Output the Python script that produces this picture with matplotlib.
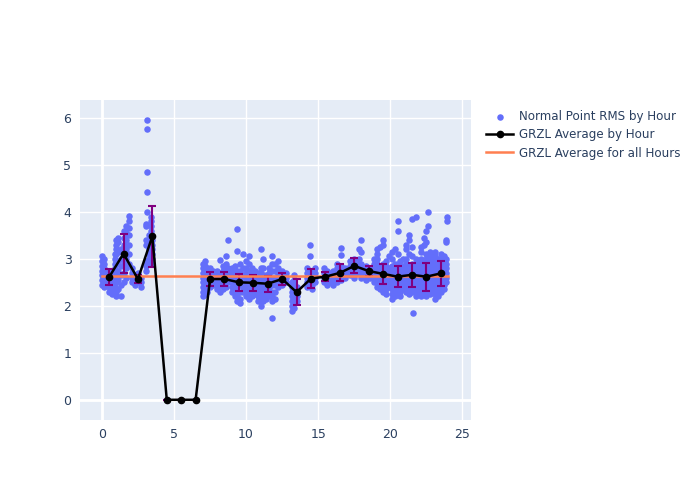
import matplotlib.pyplot as plt
import numpy as np

# hourly averages (GRZL) and their spread
hours = [0.5, 1.5, 2.5, 3.5, 4.5, 5.5, 6.5, 7.5, 8.5, 9.5, 10.5, 11.5,
         12.5, 13.5, 14.5, 15.5, 16.5, 17.5, 18.5, 19.5, 20.5, 21.5, 22.5, 23.5]
avg_rms = [2.61, 3.11, 2.57, 3.48, 0.0, 0.0, 0.0, 2.57, 2.57, 2.50, 2.49, 2.47,
           2.57, 2.29, 2.58, 2.62, 2.70, 2.85, 2.74, 2.68, 2.62, 2.66, 2.62, 2.69]
std_rms = [0.17, 0.42, 0.08, 0.65, 0.0, 0.0, 0.0, 0.15, 0.14, 0.18, 0.17, 0.17,
           0.13, 0.28, 0.20, 0.10, 0.18, 0.16, 0.11, 0.22, 0.22, 0.25, 0.30, 0.26]
overall_avg = 2.63

# normal point RMS, grouped by pass (hour of day -> values)
pass_hours = [0.0, 0.15, 0.3, 0.5, 0.7, 0.9,
              1.0, 1.1, 1.3, 1.5, 1.7, 1.85,
              2.1, 2.3, 2.5, 2.7,
              3.05, 3.1, 3.25, 3.4, 3.5,
              7.0, 7.15, 7.3, 7.5, 7.7,
              8.0, 8.2, 8.4, 8.6, 8.75,
              9.0, 9.2, 9.4, 9.6, 9.8,
              10.0, 10.2, 10.4, 10.6, 10.8,
              11.0, 11.2, 11.4, 11.6, 11.8,
              12.0, 12.2, 12.5, 12.8,
              13.2, 13.3, 13.5,
              14.2, 14.4, 14.6, 14.8,
              15.4, 15.6, 15.9,
              16.0, 16.3, 16.6, 16.85,
              17.2, 17.5, 17.8,
              18.0, 18.3, 18.6, 18.9,
              19.1, 19.3, 19.5, 19.7, 19.9,
              20.1, 20.3, 20.5, 20.7, 20.9,
              21.1, 21.3, 21.5, 21.6, 21.75, 21.9,
              22.1, 22.3, 22.5, 22.6, 22.75, 22.9,
              23.1, 23.3, 23.5, 23.7, 23.85, 23.9]
pass_rms = [
    [2.45, 2.55, 2.65, 2.75, 2.85, 2.95, 3.05],
    [2.4, 2.5, 2.6, 2.7, 2.8, 2.9, 3.0],
    [2.45, 2.55, 2.65, 2.75],
    [2.3, 2.4, 2.5, 2.6, 2.7],
    [2.25, 2.35, 2.45, 2.55, 2.65, 2.75],
    [2.3, 2.4, 2.5, 2.6, 2.7, 2.8, 2.9, 3.0, 3.1],
    [2.2, 2.3, 2.5, 2.7, 2.9, 3.1, 3.2, 3.3, 3.4],
    [2.35, 2.55, 2.75, 2.95, 3.15, 3.35, 3.45],
    [2.2, 2.45, 2.65, 2.85, 3.0, 3.2],
    [2.5, 2.7, 2.9, 3.1, 3.3, 3.45, 3.6],
    [2.6, 2.8, 3.0, 3.2, 3.4, 3.55, 3.7],
    [2.9, 3.1, 3.3, 3.5, 3.65, 3.8, 3.92],
    [2.5, 2.6, 2.7, 2.8],
    [2.45, 2.55, 2.65],
    [2.5, 2.6, 2.7],
    [2.4, 2.5, 2.6],
    [2.75, 2.85, 2.95, 3.3, 3.4, 3.7, 3.75],
    [4.0, 4.42, 4.85, 5.77, 5.95],
    [2.9, 3.0, 3.1, 3.2, 3.3, 3.4, 3.5],
    [3.2, 3.3, 3.4, 3.5, 3.6, 3.7, 3.8, 3.9],
    [2.9, 3.0, 3.1, 3.2, 3.3, 3.4],
    [2.2, 2.3, 2.4, 2.5, 2.6, 2.7, 2.8, 2.9],
    [2.25, 2.35, 2.45, 2.55, 2.65, 2.75, 2.85, 2.95],
    [2.3, 2.4, 2.5, 2.6, 2.7, 2.8],
    [2.4, 2.5, 2.6, 2.7, 2.8],
    [2.45, 2.55, 2.65, 2.75],
    [2.35, 2.45, 2.55, 2.65, 2.75],
    [2.3, 2.4, 2.5, 2.6, 2.7, 2.98],
    [2.35, 2.45, 2.55, 2.65, 2.75, 2.85],
    [2.4, 2.5, 2.6, 2.7, 2.8, 2.9, 3.05],
    [3.4, 2.5, 2.6, 2.7, 2.8],
    [2.3, 2.4, 2.5, 2.6, 2.7, 2.8],
    [2.2, 2.3, 2.4, 2.5, 2.6, 2.7, 2.85],
    [2.1, 2.2, 2.3, 2.45, 2.6, 2.75, 3.16, 3.64],
    [2.05, 2.15, 2.3, 2.45, 2.6, 2.75, 2.9],
    [2.3, 2.4, 2.5, 2.65, 2.8, 3.1],
    [2.2, 2.3, 2.4, 2.5, 2.6, 2.7, 2.8, 2.95],
    [2.15, 2.25, 2.35, 2.45, 2.55, 2.65, 2.75, 2.9, 3.05],
    [2.2, 2.3, 2.4, 2.5, 2.6, 2.7, 2.8],
    [2.25, 2.35, 2.45, 2.55, 2.65, 2.75],
    [2.1, 2.2, 2.3, 2.4, 2.5, 2.6, 2.7],
    [2.0, 2.1, 2.2, 2.3, 2.4, 2.5, 2.6, 2.7, 2.8, 3.2],
    [2.1, 2.2, 2.35, 2.5, 2.65, 2.8, 3.0],
    [2.15, 2.25, 2.35, 2.45, 2.55, 2.65],
    [2.2, 2.3, 2.4, 2.5, 2.6, 2.7, 2.8],
    [2.1, 2.2, 2.3, 2.45, 2.6, 2.75, 2.9, 3.05, 1.75],
    [2.15, 2.3, 2.45, 2.6, 2.75, 2.9],
    [2.4, 2.5, 2.6, 2.7, 2.8, 2.95],
    [2.45, 2.55, 2.65, 2.75],
    [2.5, 2.6, 2.7],
    [1.9, 2.0, 2.1, 2.2, 2.3, 2.4, 2.5],
    [1.95, 2.05, 2.15, 2.25, 2.35, 2.45, 2.55, 2.65],
    [2.1, 2.2, 2.3, 2.4],
    [2.4, 2.5, 2.6, 2.7, 2.8],
    [2.45, 2.55, 2.65, 2.75, 3.05, 3.3],
    [2.35, 2.45, 2.55, 2.65],
    [2.5, 2.6, 2.7, 2.8],
    [2.5, 2.6, 2.7, 2.8],
    [2.45, 2.55, 2.65, 2.75],
    [2.5, 2.6, 2.7],
    [2.45, 2.55, 2.65, 2.75],
    [2.5, 2.6, 2.7, 2.8, 2.9],
    [2.55, 2.65, 2.75, 2.85, 3.08, 3.23],
    [2.6, 2.7, 2.8],
    [2.65, 2.75, 2.85, 2.95],
    [2.6, 2.7, 2.8, 2.9, 3.0],
    [2.7, 2.8, 2.9, 3.0, 3.2],
    [2.6, 2.7, 2.8, 2.9, 3.15, 3.4],
    [2.55, 2.65, 2.75, 2.85],
    [2.6, 2.7, 2.8],
    [2.5, 2.6, 2.7, 2.8, 2.9, 3.0],
    [2.4, 2.5, 2.6, 2.7, 2.8, 2.9, 3.0, 3.1, 3.2],
    [2.35, 2.45, 2.55, 2.65, 2.75, 2.85, 3.25],
    [2.3, 2.4, 2.5, 2.6, 2.7, 2.8, 2.9, 3.3, 3.4],
    [2.25, 2.35, 2.45, 2.55, 2.65, 2.75, 2.85, 2.95],
    [2.4, 2.5, 2.6, 2.7, 2.8, 3.05],
    [2.15, 2.25, 2.35, 2.45, 2.55, 2.65, 2.75, 2.85, 3.0, 3.15],
    [2.2, 2.3, 2.4, 2.5, 2.6, 2.7, 2.8, 2.9, 3.2],
    [2.3, 2.4, 2.5, 2.6, 2.7, 2.8, 2.9, 3.1, 3.6, 3.8],
    [2.2, 2.3, 2.4, 2.5, 2.6, 2.7, 2.8, 2.95],
    [2.35, 2.45, 2.55, 2.65, 2.75, 2.85, 3.0],
    [2.3, 2.4, 2.5, 2.6, 2.7, 2.8, 2.9, 3.0, 3.2, 3.3],
    [2.25, 2.35, 2.45, 2.55, 2.65, 2.75, 2.85, 3.1, 3.4, 3.5],
    [2.3, 2.4, 2.5, 2.6, 2.7, 2.8, 2.9, 3.05, 3.25, 3.85],
    [1.85],
    [2.2, 2.3, 2.4, 2.5, 2.6, 2.7, 2.8, 2.9, 3.0, 3.9],
    [2.35, 2.45, 2.55, 2.65, 2.75, 2.85, 2.95],
    [2.2, 2.3, 2.4, 2.5, 2.6, 2.7, 2.8, 2.9, 3.0, 3.15, 3.25],
    [2.25, 2.35, 2.45, 2.55, 2.65, 2.75, 2.85, 2.95, 3.3, 3.45],
    [2.2, 2.3, 2.4, 2.5, 2.6, 2.7, 2.8, 2.9, 3.0, 3.1, 3.35, 3.6],
    [4.0, 3.7],
    [2.25, 2.35, 2.45, 2.55, 2.65, 2.75, 2.85, 2.95, 3.05, 3.15],
    [2.3, 2.4, 2.5, 2.6, 2.7, 2.8, 2.9, 3.0],
    [2.15, 2.25, 2.35, 2.45, 2.55, 2.65, 2.75, 2.85, 2.95, 3.05, 3.15],
    [2.2, 2.3, 2.4, 2.5, 2.6, 2.7, 2.8, 2.9, 3.0],
    [2.3, 2.4, 2.5, 2.6, 2.7, 2.8, 2.9, 3.0, 3.1],
    [2.35, 2.45, 2.55, 2.65, 2.75, 2.85, 2.95, 3.05],
    [2.5, 2.6, 2.7, 2.8, 2.9, 3.0, 3.35, 3.4],
    [3.8, 3.9],
]

pt_x = []
pt_y = []
for h, vals in zip(pass_hours, pass_rms):
    pt_x += [h] * len(vals)
    pt_y += vals

text_col = '#2a3f5f'

fig = plt.figure(figsize=(7, 5), dpi=100)
ax = fig.add_axes([0.114, 0.16, 0.559, 0.64])
ax.set_facecolor('#e5ecf6')

ax.scatter(pt_x, pt_y, s=22, color='#636efa', linewidths=0, zorder=3,
           label='Normal Point RMS by Hour')
ax.errorbar(hours, avg_rms, yerr=std_rms, fmt='none', ecolor='purple',
            elinewidth=1.5, capsize=3, capthick=1.5, zorder=4)
ax.plot(hours, avg_rms, '-o', color='black', markersize=4.5, linewidth=1.8,
        zorder=5, label='GRZL Average by Hour')
ax.plot([0, 24], [overall_avg, overall_avg], color='#ff7f50', linewidth=1.8,
        zorder=4, label='GRZL Average for all Hours')

ax.set_xlim(-1.53, 25.6)
ax.set_ylim(-0.43, 6.38)
ax.set_xticks([0, 5, 10, 15, 20, 25])
ax.set_yticks([0, 1, 2, 3, 4, 5, 6])
ax.grid(True, color='white', linewidth=1)
ax.set_axisbelow(True)
ax.axhline(0, color='white', linewidth=2, zorder=1)
ax.axvline(0, color='white', linewidth=2, zorder=1)
for s in ax.spines.values():
    s.set_visible(False)
ax.tick_params(length=0, labelsize=9, labelcolor=text_col, pad=6)

fig.legend(loc='upper left', bbox_to_anchor=(0.688, 0.79), frameon=False,
           fontsize=8.6, labelcolor=text_col, handlelength=2.2, handletextpad=0.55,
           borderaxespad=0, labelspacing=0.45)

fig.savefig('out.png', dpi=100)
